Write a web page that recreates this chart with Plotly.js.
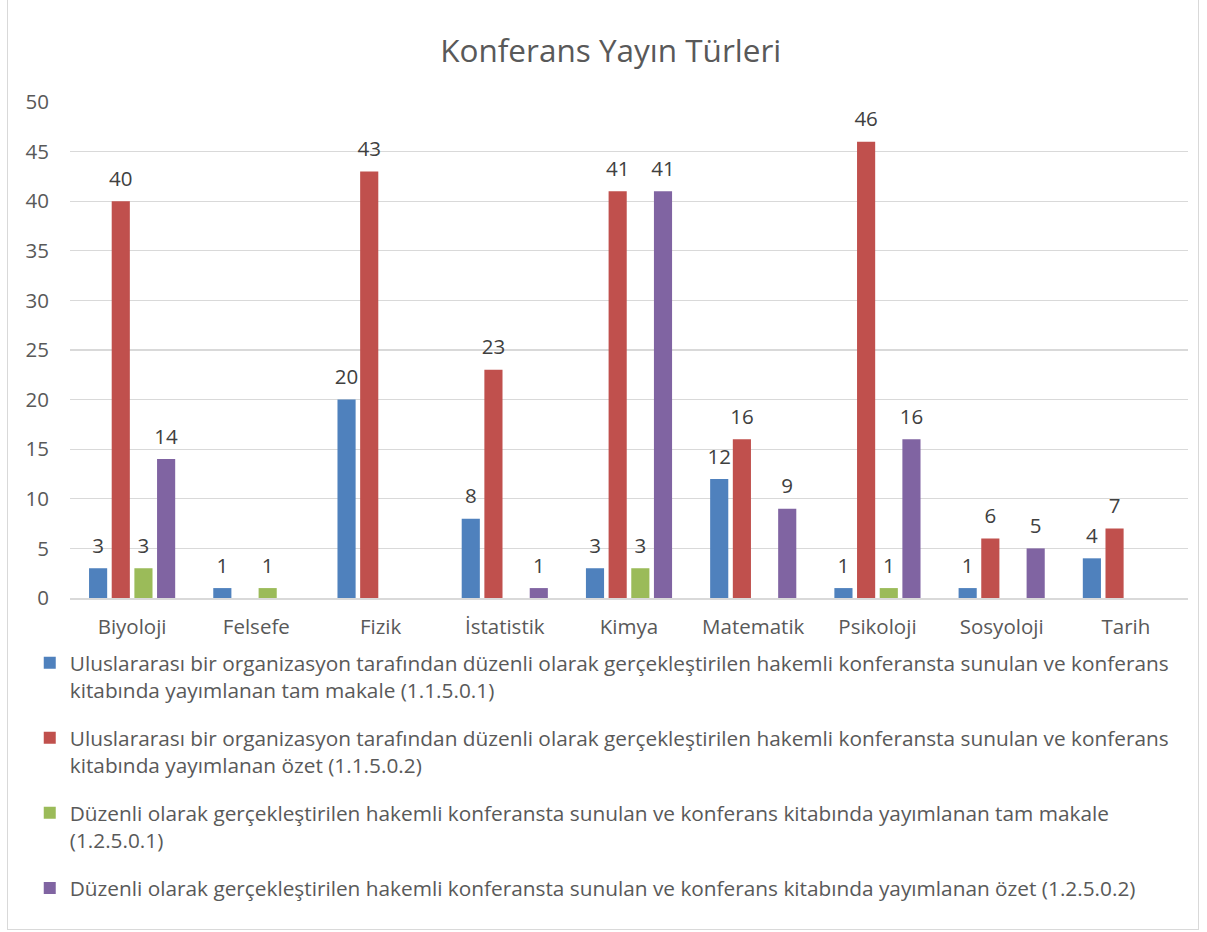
<!DOCTYPE html>
<html><head><meta charset="utf-8">
<script src="https://cdn.plot.ly/plotly-3.0.1.min.js"></script>
<style>
html,body{margin:0;padding:0;background:#fff;}
#frame{position:absolute;left:7px;top:0px;width:1192px;height:930px;border:1px solid #d9d9d9;border-top:none;box-sizing:border-box;}
#chart{position:absolute;left:0;top:0;width:1207px;height:932px;}
</style></head>
<body>
<div id="frame"></div>
<div id="chart"></div>
<script>
const categories = ["Biyoloji","Felsefe","Fizik","İstatistik","Kimya","Matematik","Psikoloji","Sosyoloji","Tarih"];
const seriesNames = [
 "Uluslararası bir organizasyon tarafından düzenli olarak gerçekleştirilen hakemli konferansta sunulan ve konferans<br>kitabında yayımlanan tam makale (1.1.5.0.1)",
 "Uluslararası bir organizasyon tarafından düzenli olarak gerçekleştirilen hakemli konferansta sunulan ve konferans<br>kitabında yayımlanan özet (1.1.5.0.2)",
 "Düzenli olarak gerçekleştirilen hakemli konferansta sunulan ve konferans kitabında yayımlanan tam makale<br>(1.2.5.0.1)",
 "Düzenli olarak gerçekleştirilen hakemli konferansta sunulan ve konferans kitabında yayımlanan özet (1.2.5.0.2)"
];
const tamMakaleUluslararasi = [3,1,20,8,3,12,1,1,4];
const ozetUluslararasi = [40,null,43,23,41,16,46,6,7];
const tamMakaleUlusal = [3,1,null,null,3,null,1,null,null];
const ozetUlusal = [14,null,null,1,41,9,16,5,null];
const colors = ["#4f81bd","#c0504d","#9bbb59","#8064a2"];
const seriesValues = [tamMakaleUluslararasi, ozetUluslararasi, tamMakaleUlusal, ozetUlusal];
const FONT = "Open Sans, Liberation Sans, Arial, sans-serif";
const traces = seriesValues.map((vals,i)=>({
  type:"bar", x:categories, y:vals, name:seriesNames[i],
  marker:{color:colors[i]},
  text:vals.map(v=>v==null?"":"<span style='font-size:20.5px'>"+String(v)+"</span><br> "), textposition:"outside",
  constraintext:"none",
  textfont:{family:FONT,size:8,color:"#404040"}, cliponaxis:false,
  legendgroup:"g"+i, hoverinfo:"x+y"
}));
const layout = {
  width:1207, height:932,
  paper_bgcolor:"rgba(0,0,0,0)", plot_bgcolor:"rgba(0,0,0,0)",
  margin:{l:70,r:19,t:102,b:334},
  font:{family:FONT,size:20.5,color:"#595959"},
  title:{text:"Konferans Yayın Türleri",font:{family:FONT,size:31.5,color:"#595959"},x:0.506,xanchor:"center",y:0.945,yanchor:"middle"},
  barmode:"group", bargap:0.27, bargroupgap:0.2,
  xaxis:{showline:true,linecolor:"#d9d9d9",linewidth:1.5,tickfont:{size:20.5,color:"#595959"},ticks:"",showgrid:false,ticklabelstandoff:10},
  yaxis:{range:[0,50],dtick:5,showgrid:true,gridcolor:"#d9d9d9",gridwidth:1.3,zeroline:false,showline:false,ticks:"",tickfont:{size:20.5,color:"#595959"},ticklabelstandoff:20},
  showlegend:true,
  legend:{orientation:"v",x:-0.036,xanchor:"left",y:-0.09,yanchor:"top",traceorder:"grouped",tracegroupgap:18,valign:"top",font:{family:FONT,size:20.8,color:"#595959"},itemwidth:30,bgcolor:"rgba(0,0,0,0)"}
};
Plotly.newPlot("chart",traces,layout,{displayModeBar:false,staticPlot:true});
</script>
</body></html>
